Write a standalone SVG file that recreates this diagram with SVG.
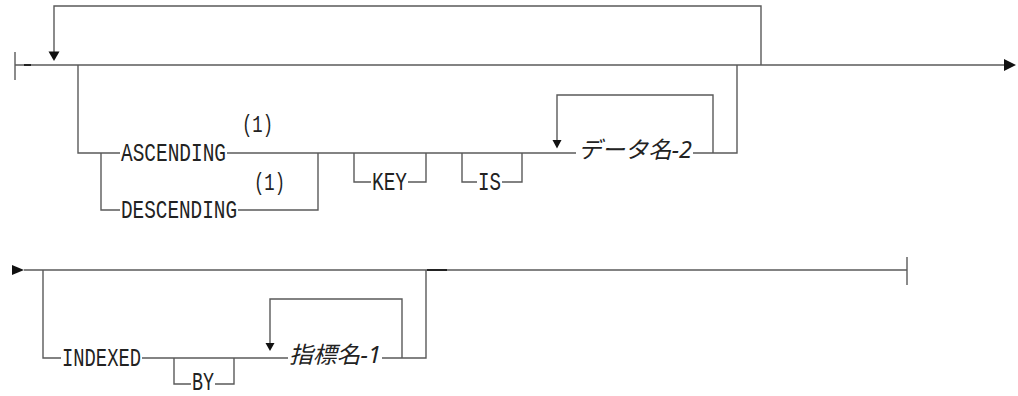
<svg xmlns="http://www.w3.org/2000/svg" width="1018" height="396" viewBox="0 0 1018 396">
<style>
.ln{fill:none;stroke:#5a5a5a;stroke-width:1.4}
.dk{fill:none;stroke:#222;stroke-width:2}
.ah{fill:#111;stroke:none}
.kw{font-family:"Liberation Mono","DejaVu Sans Mono",monospace;font-size:25px;fill:#222}
.jp{font-family:"Noto Sans","Noto Sans CJK JP",sans-serif;font-style:italic;font-size:23px;fill:#222}
.nt{font-family:"Liberation Mono","DejaVu Sans Mono",monospace;font-size:24px;fill:#222}
</style>
<rect width="1018" height="396" fill="#fff"/>
<g id="connectors">
<path class="ln" d="M15 52V80"/>
<path class="ln" d="M15 65H1005"/>
<path class="dk" d="M24 65H31"/>
<polygon class="ah" points="1004,59 1016,65 1004,71"/>
<path class="ln" d="M761 65V6H54V52"/>
<polygon class="ah" points="48.5,51.5 59.5,51.5 54,61"/>
<path class="ln" d="M78 65V153H120"/>
<path class="ln" d="M101 153V210H120"/>
<path class="ln" d="M227 153H576"/>
<path class="ln" d="M238 210H318V153"/>
<path class="ln" d="M354 153V182H371"/>
<path class="ln" d="M408 182H426V153"/>
<path class="ln" d="M462 153V182H477"/>
<path class="ln" d="M502 182H522V153"/>
<path class="ln" d="M713 153V95H557V140"/>
<polygon class="ah" points="552.5,140 561.5,140 557,148.5"/>
<path class="ln" d="M693 153H737V65"/>
<polygon class="ah" points="12,265 24,270 12,275"/>
<path class="ln" d="M24 270H907"/>
<path class="ln" d="M907 257V285"/>
<path class="dk" d="M427 270H447"/>
<path class="ln" d="M43 270V358H61"/>
<path class="ln" d="M142 358H288"/>
<path class="ln" d="M174 358V384H191"/>
<path class="ln" d="M215 384H234V358"/>
<path class="ln" d="M402 358V299H270V343"/>
<polygon class="ah" points="265.5,343 274.5,343 270,351"/>
<path class="ln" d="M382 358H426V270"/>
</g>
<g id="ascending"><text class="kw" x="121" y="161" textLength="105" lengthAdjust="spacingAndGlyphs">ASCENDING</text></g>
<g id="note1a"><text class="nt" x="242" y="132" textLength="31" lengthAdjust="spacingAndGlyphs">(1)</text></g>
<g id="descending"><text class="kw" x="121" y="218" textLength="116" lengthAdjust="spacingAndGlyphs">DESCENDING</text></g>
<g id="note1b"><text class="nt" x="254" y="190" textLength="31" lengthAdjust="spacingAndGlyphs">(1)</text></g>
<g id="key"><text class="kw" x="372" y="190" textLength="35" lengthAdjust="spacingAndGlyphs">KEY</text></g>
<g id="is"><text class="kw" x="478" y="190" textLength="23" lengthAdjust="spacingAndGlyphs">IS</text></g>
<g id="data2"><text class="jp" x="578" y="158" textLength="114" lengthAdjust="spacingAndGlyphs">データ名-2</text></g>
<g id="indexed"><text class="kw" x="62" y="366" textLength="79" lengthAdjust="spacingAndGlyphs">INDEXED</text></g>
<g id="by"><text class="kw" x="192" y="390" font-size="23" textLength="22" lengthAdjust="spacingAndGlyphs">BY</text></g>
<g id="index1"><text class="jp" x="289" y="363" textLength="92" lengthAdjust="spacingAndGlyphs">指標名-1</text></g>
</svg>
